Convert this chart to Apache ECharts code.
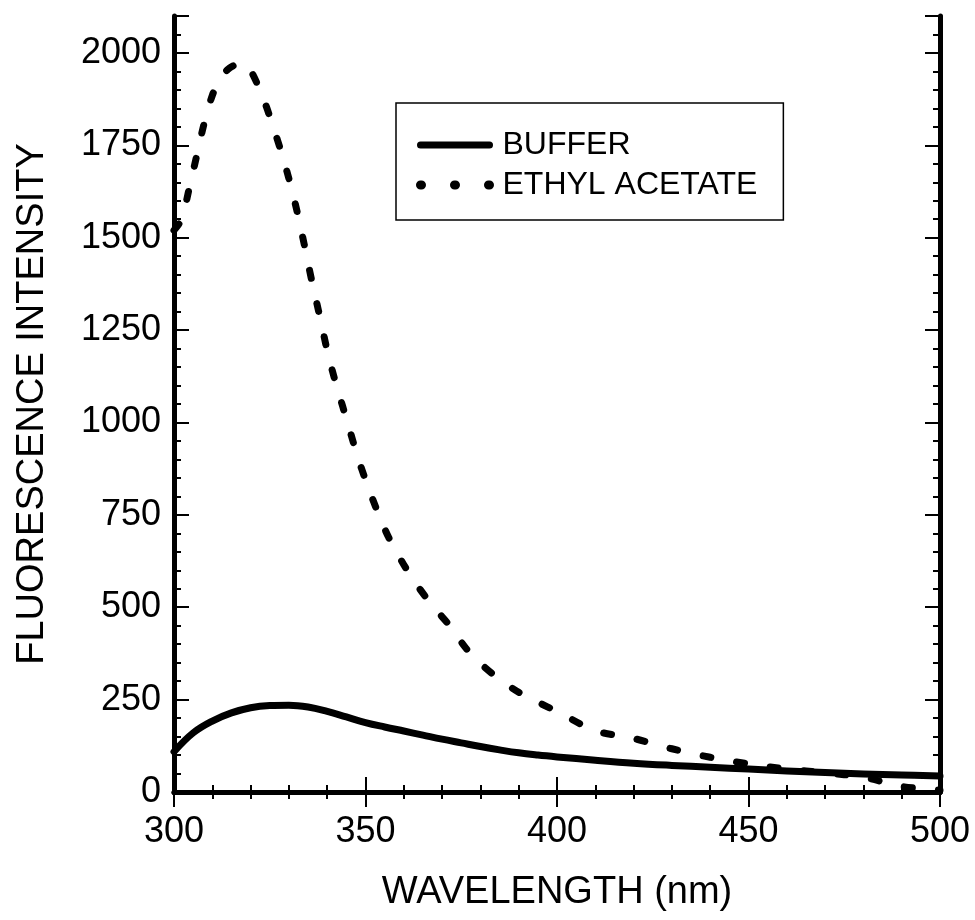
<!DOCTYPE html>
<html>
<head>
<meta charset="utf-8">
<script src="https://cdn.jsdelivr.net/npm/echarts@6/dist/echarts.min.js"></script>
<style>
html,body{margin:0;padding:0;background:#fff;}
#chart{width:975px;height:920px;}
</style>
</head>
<body>
<div id="chart"></div>
<script>
// Wavelength (nm) and intensity values
const bufferWavelength = [300,305,310,315,320,325,330,335,340,345,350,355,360,365,370,375,380,385,390,395,400,410,420,430,440,450,460,470,480,490,500];
const bufferIntensity  = [109,160,192,214,228,234,235,230,218,203,188,176,165,154,143,133,123,114,106,100,95,86,78,72,67,62,57,53,49,46,43];

const ethylWavelength = [300,302,304,306,308,310,312,314,316,318,320,322,324,326,328,330,332,334,336,338,340,342,344,346,348,350,353,356,360,364,368,372,376,380,385,390,395,400,410,420,430,440,450,460,470,480,490,500];
const ethylIntensity  = [1520,1550,1635,1725,1815,1885,1930,1955,1968,1972,1952,1910,1858,1797,1732,1660,1577,1482,1382,1290,1195,1115,1045,975,905,845,762,690,615,552,498,450,392,348,305,270,243,218,166,145,117,94,76,62,52,40,15,5];

const seriesNames = ['BUFFER', 'ETHYL ACETATE'];
const xTitle = 'WAVELENGTH (nm)';
const yTitle = 'FLUORESCENCE INTENSITY';

const pairs = (xs, ys) => xs.map((x, i) => [x, ys[i]]);

const FONT = '"Liberation Sans", Arial, Helvetica, sans-serif';
const frame = { show: true, lineStyle: { color: '#000', width: 5 } };
const tickIn = { show: true, inside: true, length: 15, lineStyle: { color: '#000', width: 2 } };
const minorIn = { show: true, splitNumber: 5, length: 7, lineStyle: { color: '#000', width: 2 } };
const plain = v => String(v);

const chart = echarts.init(document.getElementById('chart'), null, { renderer: 'canvas' });
chart.setOption({
  animation: false,
  backgroundColor: '#fff',
  grid: { left: 174, right: 35, top: 16, bottom: 128, containLabel: false },
  legend: {
    orient: 'vertical',
    left: 396, top: 103,
    padding: [26, 26, 19, 20],
    itemGap: 8,
    itemWidth: 69,
    itemHeight: 26,
    borderColor: '#000',
    borderWidth: 1.5,
    itemStyle: { opacity: 0 },
    textStyle: { fontFamily: FONT, fontSize: 32, color: '#000', padding: [0,0,0,8] },
    data: [
      { name: seriesNames[0], lineStyle: { type: 'solid', width: 7, cap: 'round', color: '#000' } },
      { name: seriesNames[1], lineStyle: { type: [1, 33], cap: 'round', width: 9, color: '#000' } }
    ]
  },
  xAxis: [{
    type: 'value', min: 300, max: 500, interval: 50,
    position: 'bottom',
    name: xTitle, nameLocation: 'middle', nameGap: 82,
    nameTextStyle: { fontFamily: FONT, fontSize: 38, color: '#000' },
    axisLine: frame, axisTick: tickIn, minorTick: minorIn,
    splitLine: { show: false },
    axisLabel: { fontFamily: FONT, fontSize: 36, color: '#000', margin: 22, formatter: plain }
  }, {
    type: 'value', min: 300, max: 500, interval: 50,
    position: 'top',
    axisLine: frame, axisTick: tickIn, minorTick: minorIn,
    splitLine: { show: false }, axisLabel: { show: false }
  }],
  yAxis: [{
    type: 'value', min: 0, max: 2100, interval: 250,
    position: 'left',
    name: yTitle, nameLocation: 'middle', nameGap: 122,
    nameTextStyle: { fontFamily: FONT, fontSize: 38, color: '#000' },
    axisLine: frame, axisTick: tickIn, minorTick: minorIn,
    splitLine: { show: false },
    axisLabel: { fontFamily: FONT, fontSize: 36, color: '#000', margin: 13, showMaxLabel: false, formatter: plain }
  }, {
    type: 'value', min: 0, max: 2100, interval: 250,
    position: 'right',
    axisLine: frame, axisTick: tickIn, minorTick: minorIn,
    splitLine: { show: false }, axisLabel: { show: false }
  }],
  series: [{
    name: seriesNames[0], type: 'line', xAxisIndex: 0, yAxisIndex: 0,
    data: pairs(bufferWavelength, bufferIntensity),
    symbol: 'none', smooth: 0.4,
    lineStyle: { color: '#000', width: 7, cap: 'round', join: 'round' },
    itemStyle: { color: '#000' }
  }, {
    name: seriesNames[1], type: 'line', xAxisIndex: 0, yAxisIndex: 0,
    data: pairs(ethylWavelength, ethylIntensity),
    symbol: 'none', smooth: 0.3,
    lineStyle: { color: '#000', width: 7, type: [8, 26], cap: 'round', join: 'round' },
    itemStyle: { color: '#000' }
  }]
});
</script>
</body>
</html>
